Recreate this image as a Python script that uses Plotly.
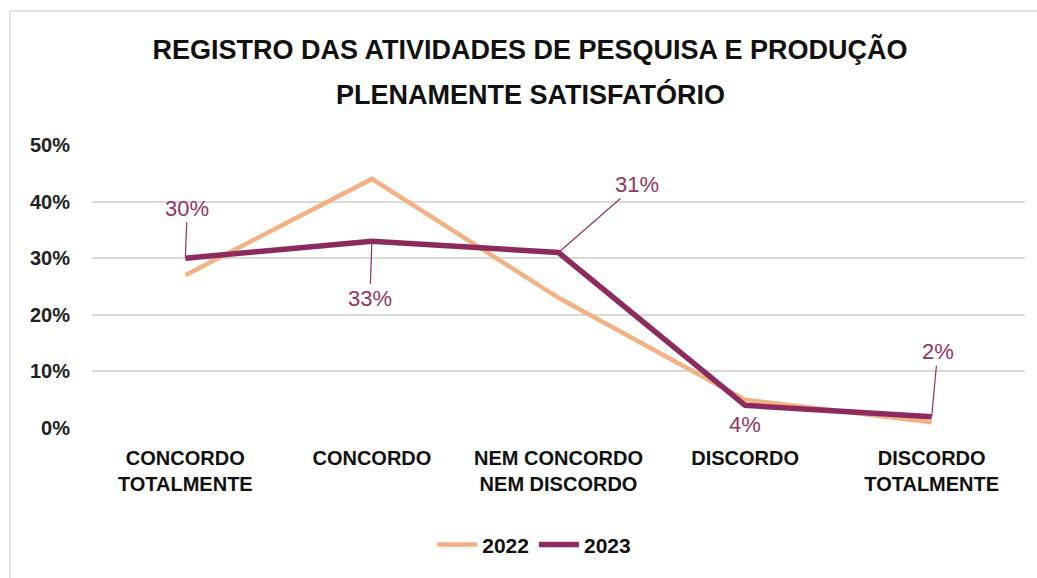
import plotly.graph_objects as go

categories = ["CONCORDO<br>TOTALMENTE", "CONCORDO", "NEM CONCORDO<br>NEM DISCORDO",
              "DISCORDO", "DISCORDO<br>TOTALMENTE"]
values_2022 = [0.27, 0.44, 0.23, 0.05, 0.01]
values_2023 = [0.30, 0.33, 0.31, 0.04, 0.02]
y_ticks = [0.0, 0.1, 0.2, 0.3, 0.4, 0.5]
title_lines = ["REGISTRO DAS ATIVIDADES DE PESQUISA E PRODUÇÃO", "PLENAMENTE SATISFATÓRIO"]

FONT = "Liberation Sans Narrow, Arial Narrow, sans-serif"
ORANGE = "#F4B183"
PLUM = "#8E2B5E"
LABEL = "#963366"
TEXT = "#111111"
TITLE_X = 0.4695

fig = go.Figure()
fig.add_trace(go.Scatter(x=categories, y=values_2022, mode="lines", name="2022",
                         line=dict(color=ORANGE, width=4.5)))
fig.add_trace(go.Scatter(x=categories, y=values_2023, mode="lines", name="2023",
                         line=dict(color=PLUM, width=5.5)))

# data labels for 2023 with leader lines (offsets in pixels)
offsets = [(2, -50), (-2, 57), (78, -68), (0, 0), (6, -65)]
for cat, v, (ax, ay) in zip(categories, values_2023, offsets):
    txt = f"{round(v * 100)}%"
    if ax == 0 and ay == 0:
        fig.add_annotation(x=cat, y=v, text=txt, showarrow=False, yshift=-19,
                           font=dict(family=FONT, size=22, color=LABEL))
    else:
        fig.add_annotation(x=cat, y=v, text=txt, showarrow=True, arrowhead=0,
                           arrowwidth=1.2, arrowcolor=LABEL, ax=ax, ay=ay,
                           font=dict(family=FONT, size=22, color=LABEL))

# second title line, placed with its own spacing
fig.add_annotation(xref="paper", yref="paper", x=TITLE_X, y=1.0 + (145 - 94) / 283,
                   xanchor="center", yanchor="middle", showarrow=False,
                   text=title_lines[1],
                   font=dict(family=FONT, size=27, color=TEXT, weight="bold"))

# outer frame of the chart area
fig.add_shape(type="rect", xref="paper", yref="paper",
              x0=-0.0879, x1=1.05, y0=-0.7, y1=1.4735,
              line=dict(color="#D9D9D9", width=1.5), fillcolor="rgba(0,0,0,0)")

fig.update_layout(
    width=1037, height=578,
    margin=dict(l=92, r=12, t=145, b=150),
    paper_bgcolor="white", plot_bgcolor="white",
    title=dict(text=title_lines[0], xref="paper",
               x=TITLE_X, xanchor="center", y=1 - 50 / 578, yanchor="middle",
               font=dict(family=FONT, size=27, color=TEXT, weight="bold")),
    showlegend=True,
    legend=dict(orientation="h", x=0.474, xanchor="center", y=-0.413, yanchor="middle",
                font=dict(family=FONT, size=21, color=TEXT, weight="bold"),
                itemwidth=40, bgcolor="rgba(0,0,0,0)"),
    xaxis=dict(showgrid=False, showline=False, zeroline=False,
               ticks="outside", ticklen=12, tickcolor="rgba(0,0,0,0)",
               tickfont=dict(family=FONT, size=20, color=TEXT, weight="bold"),
               range=[-0.5, 4.5]),
    yaxis=dict(range=[0, 0.5], tickvals=y_ticks, tickformat=".0%",
               showgrid=True, gridcolor="#D9D9D9", gridwidth=1.5,
               zeroline=False, showline=False, ticklabelstandoff=21,
               tickfont=dict(family=FONT, size=20, color="#222222", weight="bold")),
)

fig.write_html("out.html")
